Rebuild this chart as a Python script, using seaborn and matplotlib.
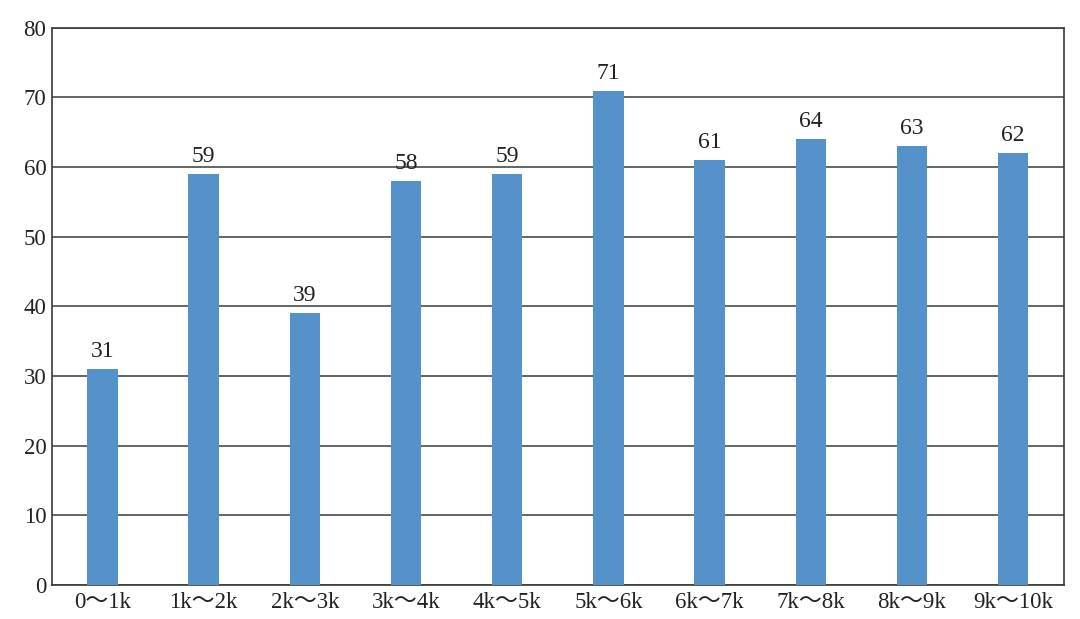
import matplotlib
matplotlib.use("Agg")
import matplotlib.pyplot as plt
import seaborn as sns
import pandas as pd

categories = ["0～1k", "1k～2k", "2k～3k", "3k～4k", "4k～5k",
              "5k～6k", "6k～7k", "7k～8k", "8k～9k", "9k～10k"]
values = [31, 59, 39, 58, 59, 71, 61, 64, 63, 62]
y_ticks = [0, 10, 20, 30, 40, 50, 60, 70, 80]

sns.set_theme(style="white")
plt.rcParams["font.family"] = ["Liberation Serif", "Noto Sans CJK SC"]

df = pd.DataFrame({"range": categories, "count": values})

fig = plt.figure(figsize=(10.8, 6.19), dpi=100)
ax = fig.add_axes([0.048, 0.055, 0.937, 0.9])

sns.barplot(data=df, x="range", y="count", color="#5592c9", width=0.3,
            saturation=1, linewidth=0, ax=ax, zorder=3)
ax.bar_label(ax.containers[0], fontsize=17, padding=5, color="#222222")

ax.set_ylim(0, 80)
ax.set_xlim(-0.5, len(categories) - 0.5)
ax.set_yticks(y_ticks)
ax.yaxis.grid(True, color="#3a3a3a", linewidth=1.1)
ax.set_axisbelow(True)
for s in ax.spines.values():
    s.set_color("#3a3a3a")
    s.set_linewidth(1.2)
ax.tick_params(axis="both", length=0, labelsize=16.5, colors="#222222")
ax.tick_params(axis="y", pad=4)
ax.tick_params(axis="x", pad=5)
ax.set_xlabel("")
ax.set_ylabel("")

fig.savefig("out.png", dpi=100)
